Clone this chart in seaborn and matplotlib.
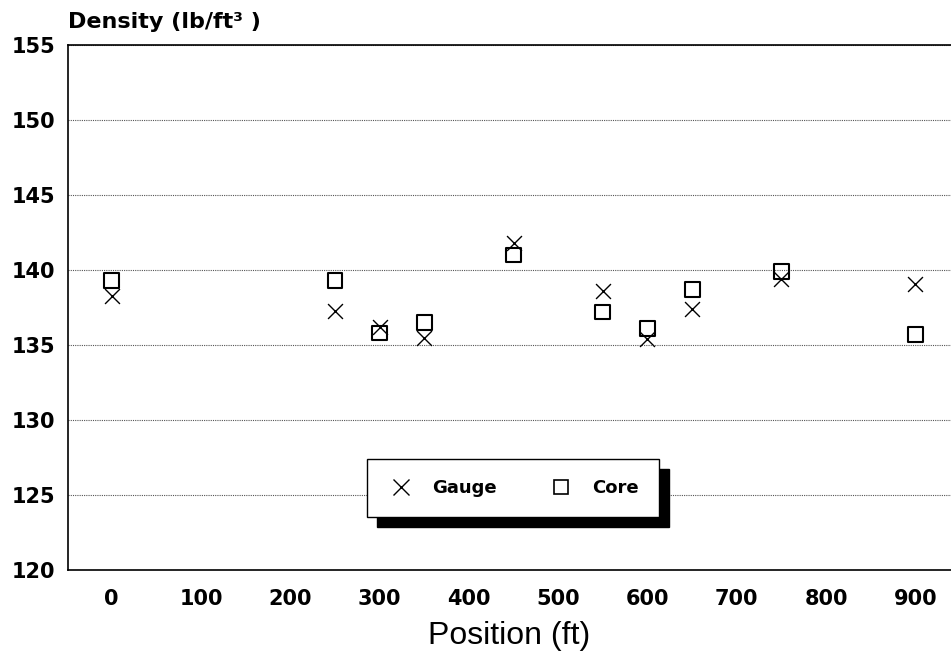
import numpy as np
import pandas as pd
import matplotlib
matplotlib.use("Agg")
import matplotlib.pyplot as plt
import seaborn as sns
from matplotlib.lines import Line2D

positions = [0, 250, 300, 350, 450, 550, 600, 650, 750, 900]
gauge = [138.3, 137.3, 136.2, 135.5, 141.8, 138.6, 135.4, 137.4, 139.4, 139.1]
core = [139.3, 139.3, 135.8, 136.5, 141.0, 137.2, 136.1, 138.7, 139.9, 135.7]
yticks = [120, 125, 130, 135, 140, 145, 150, 155]
xticks = [0, 100, 200, 300, 400, 500, 600, 700, 800, 900]

sns.set_theme(style="white")
plt.rcParams['font.family'] = ['DejaVu Sans']
plt.rcParams['text.color'] = 'black'
plt.rcParams['axes.labelcolor'] = 'black'
plt.rcParams['xtick.color'] = 'black'
plt.rcParams['ytick.color'] = 'black'

df_g = pd.DataFrame({"Position": positions, "Density": gauge})
df_c = pd.DataFrame({"Position": positions, "Density": core})

fig = plt.figure(figsize=(9.51, 6.58), dpi=100)
ax = fig.add_axes([68/951, 1-570/658, 883/951, 525/658])

sns.scatterplot(data=df_g, x="Position", y="Density", marker="x", s=115,
                color="black", linewidth=1.0, ax=ax, zorder=3)
sns.scatterplot(data=df_c, x="Position", y="Density", marker="s", s=115,
                facecolors="none", edgecolor="black", linewidth=1.5, ax=ax, zorder=3)

ax.set_xlim(-49, 940)
ax.set_ylim(120, 155)
ax.set_yticks(yticks)
ax.set_xticks(xticks)
tick_font = {"family": "DejaVu Sans", "weight": "bold", "size": 15, "color": "black"}
ax.set_yticklabels([str(v) for v in yticks], **tick_font)
ax.set_xticklabels([str(v) for v in xticks], **tick_font)
ax.tick_params(axis="x", direction="in", length=8, width=1, color="black", pad=14)
ax.tick_params(axis="y", direction="in", length=4, width=1, color="black", pad=9)
ax.yaxis.grid(True, linestyle=(0, (1, 1)), color="#555555", linewidth=0.8)
ax.xaxis.grid(False)
for s in ["left", "bottom", "top"]:
    ax.spines[s].set_visible(True)
    ax.spines[s].set_color("black")
    ax.spines[s].set_linewidth(1.2)
ax.spines["right"].set_visible(False)

ax.set_xlabel("Position (ft)", fontsize=23, family="Liberation Sans", labelpad=8, color="black")
ax.set_ylabel("")
fig.text(68/951, 1-28/658, "Density (lb/ft³ )", fontsize=16, fontweight="bold",
         va="baseline", ha="left", family="DejaVu Sans", color="black")

handles = [
    Line2D([], [], marker="x", linestyle="", color="black", markersize=11, markeredgewidth=1.0),
    Line2D([], [], marker="s", linestyle="", markerfacecolor="none", markeredgecolor="black",
           markersize=10, markeredgewidth=1.2),
]
leg = ax.legend(handles, ["Gauge", "Core"], loc="center", bbox_to_anchor=(0.504, 0.156),
                ncol=2, frameon=True, fancybox=False, framealpha=1, edgecolor="black",
                prop={"weight": "bold", "size": 13, "family": "DejaVu Sans"},
                handletextpad=1.0, columnspacing=2.8,
                borderpad=1.1, handlelength=1.5,
                shadow={"ox": 7, "oy": -7, "color": "black", "alpha": 1})
leg.get_frame().set_linewidth(1.0)
for t in leg.get_texts():
    t.set_color("black")

fig.savefig("out.png", dpi=100)
